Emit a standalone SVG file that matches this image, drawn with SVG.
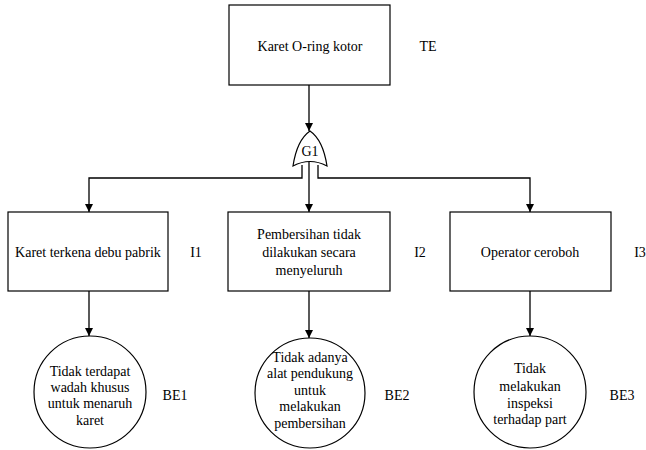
<svg xmlns="http://www.w3.org/2000/svg" width="646" height="450" viewBox="0 0 646 450">
  <style>
    .box { fill: #ffffff; stroke: #000000; stroke-width: 1.2; }
    .wire { fill: none; stroke: #000000; stroke-width: 1.3; }
  </style>
  <defs>
    <marker id="arrow" viewBox="0 0 8 8" refX="8" refY="4" markerWidth="8" markerHeight="8" markerUnits="userSpaceOnUse" orient="auto">
      <path d="M0,0 L8,4 L0,8 Z" fill="#000000"/>
    </marker>
  </defs>
  <rect width="646" height="450" fill="#ffffff"/>

  <!-- connectors -->
  <g id="connectors">
    <path class="wire" d="M309,85 V131" marker-end="url(#arrow)"/>
    <path class="wire" d="M302,165 V178 H89 V212" marker-end="url(#arrow)"/>
    <path class="wire" d="M309,162 V212" marker-end="url(#arrow)"/>
    <path class="wire" d="M318,165 V178 H530 V212" marker-end="url(#arrow)"/>
    <path class="wire" d="M89,291 V336" marker-end="url(#arrow)"/>
    <path class="wire" d="M309,291 V338" marker-end="url(#arrow)"/>
    <path class="wire" d="M530,291 V336" marker-end="url(#arrow)"/>
  </g>

  <g font-family="Liberation Serif, Times New Roman, serif" font-size="14" fill="#000000" text-anchor="middle">
    <!-- top event -->
    <g id="TE">
      <rect class="box" x="229" y="5" width="161" height="80"/>
      <text x="310" y="51">Karet O-ring kotor</text>
      <text x="428" y="51">TE</text>
    </g>

    <!-- OR gate -->
    <g id="G1">
      <path class="box" d="M310,131 Q323,140 327,166 Q310,157 293,166 Q297,140 310,131 Z"/>
      <text x="310" y="156">G1</text>
    </g>

    <!-- intermediate events -->
    <g id="I1">
      <rect class="box" x="8" y="212" width="160" height="79"/>
      <text x="88" y="257">Karet terkena debu pabrik</text>
      <text x="196" y="257">I1</text>
    </g>
    <g id="I2">
      <rect class="box" x="228" y="212" width="162" height="79"/>
      <text x="309" y="239">Pembersihan tidak</text>
      <text x="309" y="257">dilakukan secara</text>
      <text x="309" y="275">menyeluruh</text>
      <text x="420" y="257">I2</text>
    </g>
    <g id="I3">
      <rect class="box" x="450" y="212" width="161" height="79"/>
      <text x="530" y="257">Operator ceroboh</text>
      <text x="640" y="257">I3</text>
    </g>

    <!-- basic events -->
    <g id="BE1">
      <circle class="box" cx="90" cy="392" r="56"/>
      <text x="90" y="376">Tidak terdapat</text>
      <text x="90" y="392">wadah khusus</text>
      <text x="90" y="408">untuk menaruh</text>
      <text x="90" y="425">karet</text>
      <text x="175" y="400">BE1</text>
    </g>
    <g id="BE2">
      <circle class="box" cx="310" cy="393" r="55"/>
      <text x="310" y="362">Tidak adanya</text>
      <text x="310" y="378">alat pendukung</text>
      <text x="310" y="395">untuk</text>
      <text x="310" y="411">melakukan</text>
      <text x="310" y="428">pembersihan</text>
      <text x="397" y="400">BE2</text>
    </g>
    <g id="BE3">
      <circle class="box" cx="530" cy="392" r="56"/>
      <text x="530" y="373">Tidak</text>
      <text x="530" y="391">melakukan</text>
      <text x="530" y="408">inspeksi</text>
      <text x="530" y="424">terhadap part</text>
      <text x="622" y="400">BE3</text>
    </g>
  </g>
</svg>
